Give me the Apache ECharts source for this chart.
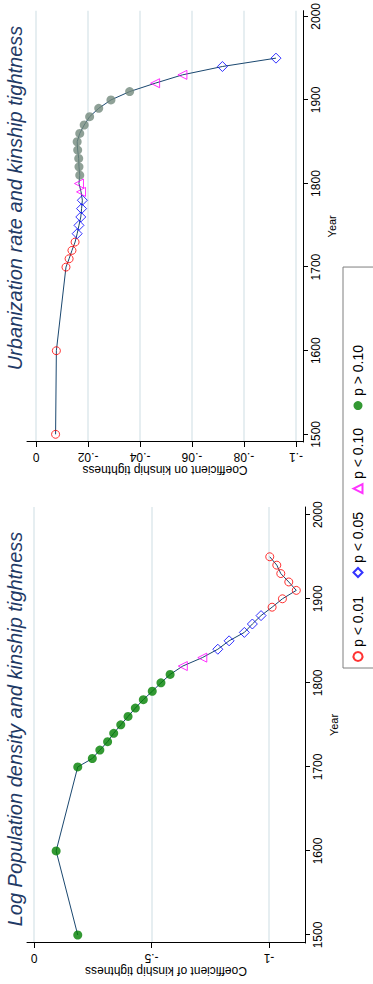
<!DOCTYPE html>
<html>
<head>
<meta charset="utf-8">
<script src="https://cdn.jsdelivr.net/npm/echarts@6/dist/echarts.min.js"></script>
<style>
html, body { margin: 0; padding: 0; background: #fff; overflow: hidden; }
#chart { position: absolute; left: 0; top: 0; width: 984px; height: 373px; transform-origin: 0 0; transform: translate(0, 984px) rotate(-90deg); }
</style>
</head>
<body>
<div id="chart"></div>
<script>
var years = [1500, 1600, 1700, 1710, 1720, 1730, 1740, 1750, 1760, 1770, 1780, 1790, 1800, 1810,
             1820, 1830, 1840, 1850, 1860, 1870, 1880, 1890, 1900, 1910, 1920, 1930, 1940, 1950];
var popCoef = [-0.186, -0.094, -0.186, -0.248, -0.280, -0.313, -0.339, -0.369, -0.400, -0.431, -0.465, -0.503, -0.540, -0.579,
               -0.633, -0.716, -0.782, -0.830, -0.895, -0.929, -0.966, -1.013, -1.057, -1.116, -1.084, -1.050, -1.033, -1.003];
// 0: p<0.01, 1: p<0.05, 2: p<0.10, 3: p>0.10
var popSig = [3, 3, 3, 3, 3, 3, 3, 3, 3, 3, 3, 3, 3, 3,
              2, 2, 1, 1, 1, 1, 1, 0, 0, 0, 0, 0, 0, 0];
var urbCoef = [-0.0075, -0.0078, -0.0115, -0.0127, -0.0138, -0.0150, -0.0158, -0.0165, -0.0172, -0.0175, -0.0178, -0.0173, -0.0165, -0.0168,
               -0.0165, -0.0164, -0.0160, -0.0158, -0.0168, -0.0185, -0.0206, -0.0241, -0.0288, -0.0360, -0.0458, -0.0563, -0.0717, -0.0923];
var urbSig = [0, 0, 0, 0, 0, 0, 1, 1, 1, 1, 1, 2, 2, 3,
              3, 3, 3, 3, 3, 3, 3, 3, 3, 3, 2, 2, 1, 1];
var yearTicks = [1500, 1600, 1700, 1800, 1900, 2000];
var popTicks = [0, -0.5, -1];
var popTickLabels = ['0', '-.5', '-1'];
var urbTicks = [0, -0.02, -0.04, -0.06, -0.08, -0.1];
var urbTickLabels = ['0', '-.02', '-.04', '-.06', '-.08', '-.1'];
var sigNames = ['p < 0.01', 'p < 0.05', 'p < 0.10', 'p > 0.10'];

var FONT = 'Liberation Sans, Arial, sans-serif';
var LINE = '#1a476f';
var GRID = '#e6eef1';

var chart = echarts.init(document.getElementById('chart'), null, { renderer: 'svg' });

function markerStyle(sig, dotColor) {
    if (sig === 0) return { symbol: 'circle', symbolSize: 8, itemStyle: { color: 'rgba(255,255,255,0)', borderColor: '#ff0000', borderWidth: 1 } };
    if (sig === 1) return { symbol: 'diamond', symbolSize: 10, itemStyle: { color: 'rgba(255,255,255,0)', borderColor: '#0000ff', borderWidth: 1 } };
    if (sig === 2) return { symbol: 'triangle', symbolSize: 9, itemStyle: { color: 'rgba(255,255,255,0)', borderColor: '#ff00ff', borderWidth: 1 } };
    return { symbol: 'circle', symbolSize: 9, itemStyle: { color: dotColor, borderWidth: 0 } };
}

function labelFor(ticks, labels) {
    return function (v) {
        for (var i = 0; i < ticks.length; i++) {
            if (Math.abs(ticks[i] - v) < 1e-9) return labels[i];
        }
        return '';
    };
}

function panelSeries(idx, coef, sig, dotColor, gridTicks) {
    var out = [];
    // light gridlines at the coefficient ticks
    out.push({
        type: 'line', xAxisIndex: idx, yAxisIndex: idx, data: [], z: 0, silent: true,
        markLine: {
            z: 0, silent: true, symbol: ['none', 'none'], label: { show: false }, animation: false,
            lineStyle: { color: GRID, width: 2, type: 'solid' },
            data: gridTicks.map(function (t) { return { yAxis: t }; })
        }
    });
    out.push({
        type: 'line', xAxisIndex: idx, yAxisIndex: idx, z: 8, showSymbol: false, silent: true,
        lineStyle: { color: LINE, width: 1 },
        data: years.map(function (y, i) { return [y, coef[i]]; })
    });
    for (var s = 0; s < sigNames.length; s++) {
        var pts = [];
        for (var i = 0; i < years.length; i++) {
            if (sig[i] === s) pts.push([years[i], coef[i]]);
        }
        var st = markerStyle(s, dotColor);
        out.push({
            name: sigNames[s], type: 'scatter', xAxisIndex: idx, yAxisIndex: idx, z: 10,
            symbol: st.symbol, symbolSize: st.symbolSize, itemStyle: st.itemStyle, data: pts
        });
    }
    return out;
}

function yearAxis(idx, min, max) {
    return {
        type: 'value', gridIndex: idx, min: min, max: max,
        name: 'Year', nameLocation: 'middle', nameGap: 17,
        nameTextStyle: { fontFamily: FONT, fontSize: 11, color: '#000' },
        axisLine: { show: true, onZero: false, lineStyle: { color: '#000', width: 1 } },
        axisTick: { show: true, length: 5, customValues: yearTicks, lineStyle: { color: '#000' } },
        axisLabel: { customValues: yearTicks, margin: 7, fontFamily: FONT, fontSize: 12, color: '#000',
                     formatter: function (v) { return String(Math.round(v)); } },
        splitLine: { show: false }
    };
}

function coefAxis(idx, min, max, name, ticks, labels) {
    return {
        type: 'value', gridIndex: idx, min: min, max: max,
        name: name, nameLocation: 'middle', nameRotate: 90, nameGap: 21,
        nameTextStyle: { fontFamily: FONT, fontSize: 12, color: '#000' },
        axisLine: { show: true, onZero: false, lineStyle: { color: '#000', width: 1 } },
        axisTick: { show: true, length: 5, customValues: ticks, lineStyle: { color: '#000' } },
        axisLabel: { customValues: ticks, rotate: 90, margin: 9, fontFamily: FONT, fontSize: 12, color: '#000',
                     formatter: labelFor(ticks, labels) },
        splitLine: { show: false }
    };
}

var option = {
    backgroundColor: '#fff',
    animation: false,
    title: [
        { text: 'Log Population density and kinship tightness', left: 255, top: 5, textAlign: 'center', padding: 0,
          textStyle: { fontFamily: FONT, fontSize: 20, fontStyle: 'italic', fontWeight: 'normal', color: '#1f3a66' } },
        { text: 'Urbanization rate and kinship tightness', left: 786, top: 5, textAlign: 'center', padding: 0,
          textStyle: { fontFamily: FONT, fontSize: 20, fontStyle: 'italic', fontWeight: 'normal', color: '#1f3a66' } }
    ],
    legend: {
        data: sigNames, left: 316, top: 343, orient: 'horizontal',
        itemWidth: 9, itemHeight: 9, itemGap: 18,
        padding: [8, 78, 20, 6],
        borderColor: '#7f7f7f', borderWidth: 1, backgroundColor: '#fff',
        textStyle: { fontFamily: FONT, fontSize: 14, color: '#000' }
    },
    grid: [
        { left: 41, top: 27, width: 436, height: 278 },
        { left: 542, top: 27, width: 432, height: 276 }
    ],
    xAxis: [
        yearAxis(0, 1490.5, 2009.2),
        yearAxis(1, 1490.8, 2006.8)
    ],
    yAxis: [
        coefAxis(0, -1.153, 0.03, 'Coefficient of kinship tightness', popTicks, popTickLabels),
        coefAxis(1, -0.1027, 0.0035, 'Coefficient on kinship tightness', urbTicks, urbTickLabels)
    ],
    series: [].concat(
        panelSeries(0, popCoef, popSig, '#008000', popTicks),
        panelSeries(1, urbCoef, urbSig, '#73897d', urbTicks)
    )
};
chart.setOption(option);
window.addEventListener('resize', function () {
    chart.resize();
});
</script>
</body>
</html>
